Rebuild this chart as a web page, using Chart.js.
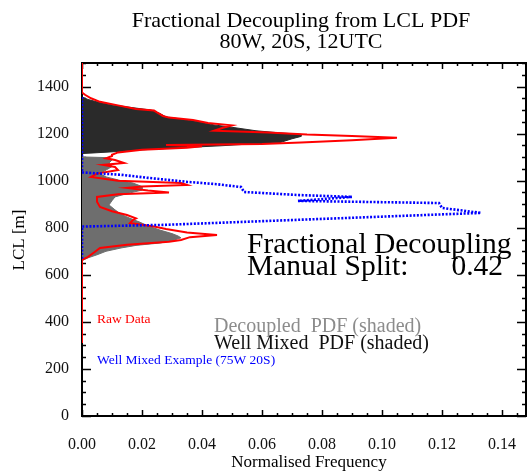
<!DOCTYPE html>
<html>
<head>
<meta charset="utf-8">
<script src="https://cdn.jsdelivr.net/npm/chart.js@4.4.1/dist/chart.umd.min.js"></script>
<style>
  html, body { margin: 0; padding: 0; background: #fff; }
</style>
</head>
<body>
<canvas id="lclChart" width="530" height="473"></canvas>
<script>
// Upper (dark) shaded PDF
const lclDark  = [1356, 1345, 1335, 1322, 1310, 1300, 1285, 1271, 1260, 1250, 1237, 1225, 1212, 1203, 1197, 1188, 1178, 1170, 1162, 1155, 1148, 1140, 1131, 1124, 1118, 1115];
const freqDark = [0, 0.002, 0.005, 0.010, 0.017, 0.023, 0.026, 0.028, 0.034, 0.039, 0.044, 0.051, 0.058, 0.066, 0.073, 0.073, 0.070, 0.068, 0.066, 0.055, 0.046, 0.033, 0.020, 0.012, 0.004, 0];

// Lower (grey) shaded PDF
const lclLight  = [1101, 1098, 1088, 1075, 1060, 1045, 1030, 1016, 1000, 990, 975, 960, 945, 931, 915, 897, 876, 857, 840, 825, 808, 790, 775, 765, 757, 745, 735, 725, 714, 700, 685, 672, 660];
const freqLight = [0, 0.008, 0.010, 0.009, 0.010, 0.008, 0.006, 0.008, 0.013, 0.017, 0.020, 0.020, 0.015, 0.011, 0.010, 0.009, 0.011, 0.013, 0.016, 0.019, 0.022, 0.026, 0.030, 0.032, 0.033, 0.030, 0.026, 0.018, 0.013, 0.008, 0.005, 0.002, 0];

// Raw data
const lclRaw  = [1500, 1375, 1365, 1350, 1335, 1320, 1305, 1298, 1290, 1275, 1268, 1258, 1245, 1235, 1225, 1212, 1205, 1196, 1190, 1182, 1172, 1162, 1156, 1152, 1146, 1140, 1131, 1120, 1110,
                 1105, 1095, 1088, 1075, 1067, 1058, 1045, 1030, 1016, 1000, 990, 982, 975, 969, 958, 950, 942, 931, 910, 888, 870, 854, 840, 833, 820, 805, 795, 780, 769, 760, 748, 740, 728, 714, 695, 676, 663, 310];
const freqRaw = [0, 0, 0.001, 0.003, 0.006, 0.012, 0.018, 0.024, 0.025, 0.027, 0.029, 0.037, 0.042, 0.050, 0.047, 0.044, 0.062, 0.075, 0.090, 0.105, 0.090, 0.073, 0.060, 0.028, 0.040, 0.035, 0.020, 0.012, 0.010,
                 0.010, 0.008, 0.011, 0.014, 0.007, 0.011, 0.012, 0.005, 0.003, 0.012, 0.033, 0.035, 0.020, 0.015, 0.022, 0.029, 0.012, 0.005, 0.005, 0.006, 0.010, 0.015, 0.018, 0.017, 0.016, 0.024, 0.028, 0.035, 0.045, 0.036, 0.033, 0.029, 0.015, 0.006, 0.004, 0.002, 0, 0];

// Well mixed example (75W 20S)
const lclWell  = [1356, 1035, 1025, 1012, 995, 985, 973, 952, 939, 931, 914, 905, 884, 863, 812, 805, 663];
const freqWell = [0, 0, 0.013, 0.022, 0.035, 0.045, 0.053, 0.054, 0.072, 0.090, 0.072, 0.119, 0.120, 0.133, 0.027, 0, 0];

const xTickStep = 0.02;
const yTickStep = 200;

const pts = (ys, xs) => ys.map((y, i) => ({ x: xs[i], y: y }));
const serif = '"Liberation Serif", "DejaVu Serif", serif';

// IDL style box with inward ticks, plus the free text
const framePlugin = {
  id: 'frame',
  beforeDatasetsDraw(chart) {
    const { ctx, chartArea: a, scales: { x, y } } = chart;
    ctx.save();
    ctx.strokeStyle = '#000';
    ctx.lineWidth = 1.5;
    for (let i = 0; i * 0.005 <= x.max + 1e-9; i++) {
      const px = Math.round(x.getPixelForValue(i * 0.005)) + 0.5;
      const len = i % 4 === 0 ? 6 : 3;
      ctx.beginPath();
      ctx.moveTo(px, a.bottom); ctx.lineTo(px, a.bottom - len);
      ctx.moveTo(px, a.top); ctx.lineTo(px, a.top + len);
      ctx.stroke();
    }
    for (let i = 0; i * 50 <= y.max; i++) {
      const py = Math.round(y.getPixelForValue(i * 50)) + 0.5;
      const len = i % 4 === 0 ? 9 : 4;
      ctx.beginPath();
      ctx.moveTo(a.left, py); ctx.lineTo(a.left + len, py);
      ctx.moveTo(a.right, py); ctx.lineTo(a.right - len, py);
      ctx.stroke();
    }
    ctx.lineWidth = 2;
    ctx.strokeRect(a.left, a.top, a.right - a.left, a.bottom - a.top);
    ctx.restore();
  },
  afterDraw(chart) {
    const { ctx } = chart;
    ctx.save();
    ctx.fillStyle = '#000';
    ctx.textAlign = 'center';
    ctx.textBaseline = 'alphabetic';
    ctx.font = '22px ' + serif;
    ctx.fillText('Fractional Decoupling from LCL PDF', 301, 27);
    ctx.fillText('80W, 20S, 12UTC', 301, 48);

    ctx.font = '17px ' + serif;
    ctx.fillText('Normalised Frequency', 309, 467);
    ctx.save();
    ctx.translate(24, 240);
    ctx.rotate(-Math.PI / 2);
    ctx.fillText('LCL [m]', 0, 0);
    ctx.restore();

    ctx.textAlign = 'left';
    ctx.font = '29.5px ' + serif;
    ctx.fillText('Fractional Decoupling', 247, 253);
    ctx.fillText('Manual Split:', 247, 275);
    ctx.textAlign = 'right';
    ctx.fillText('0.42', 503, 275);

    ctx.textAlign = 'left';
    ctx.font = '20px ' + serif;
    ctx.fillStyle = '#8c8c8c';
    ctx.fillText('Decoupled  PDF (shaded)', 214, 332);
    ctx.fillStyle = '#111';
    ctx.fillText('Well Mixed  PDF (shaded)', 214, 349);

    ctx.font = '13.5px ' + serif;
    ctx.fillStyle = '#ff0000';
    ctx.fillText('Raw Data', 97, 323);
    ctx.fillStyle = '#0000ff';
    ctx.fillText('Well Mixed Example (75W 20S)', 97, 364);
    ctx.restore();
  }
};

new Chart(document.getElementById('lclChart'), {
  type: 'line',
  data: {
    datasets: [
      {
        label: 'Well Mixed Example',
        data: pts(lclWell, freqWell),
        borderColor: '#0000ff',
        borderWidth: 2.6,
        borderDash: [2, 1.6],
        fill: false
      },
      {
        label: 'Raw Data',
        data: pts(lclRaw, freqRaw),
        borderColor: '#ff0000',
        borderWidth: 2,
        fill: false
      },
      {
        label: 'Decoupled PDF',
        data: pts(lclLight, freqLight),
        borderColor: '#6e6e6e',
        backgroundColor: '#6e6e6e',
        borderWidth: 1,
        fill: 'origin'
      },
      {
        label: 'Well Mixed PDF',
        data: pts(lclDark, freqDark),
        borderColor: '#2a2a2a',
        backgroundColor: '#2a2a2a',
        borderWidth: 1,
        fill: 'origin'
      }
    ]
  },
  options: {
    responsive: false,
    animation: false,
    indexAxis: 'y',
    layout: { padding: { top: 63, right: 4, left: 0, bottom: 0 } },
    elements: { point: { radius: 0 }, line: { tension: 0 } },
    plugins: { legend: { display: false }, tooltip: { enabled: false } },
    scales: {
      x: {
        type: 'linear',
        min: 0,
        max: 0.148,
        grid: { display: false },
        border: { display: false },
        ticks: {
          stepSize: xTickStep,
          includeBounds: false,
          maxRotation: 0,
          padding: 11,
          color: '#111',
          font: { family: serif, size: 16 },
          callback: v => v.toFixed(2)
        },
        afterFit: s => { s.height = 57; }
      },
      y: {
        type: 'linear',
        min: 0,
        max: 1500,
        grid: { display: false },
        border: { display: false },
        ticks: {
          stepSize: yTickStep,
          includeBounds: false,
          padding: 5,
          color: '#111',
          font: { family: serif, size: 16 },
          callback: v => String(v)
        },
        afterFit: s => { s.width = 82; }
      }
    }
  },
  plugins: [framePlugin]
});
</script>
</body>
</html>
